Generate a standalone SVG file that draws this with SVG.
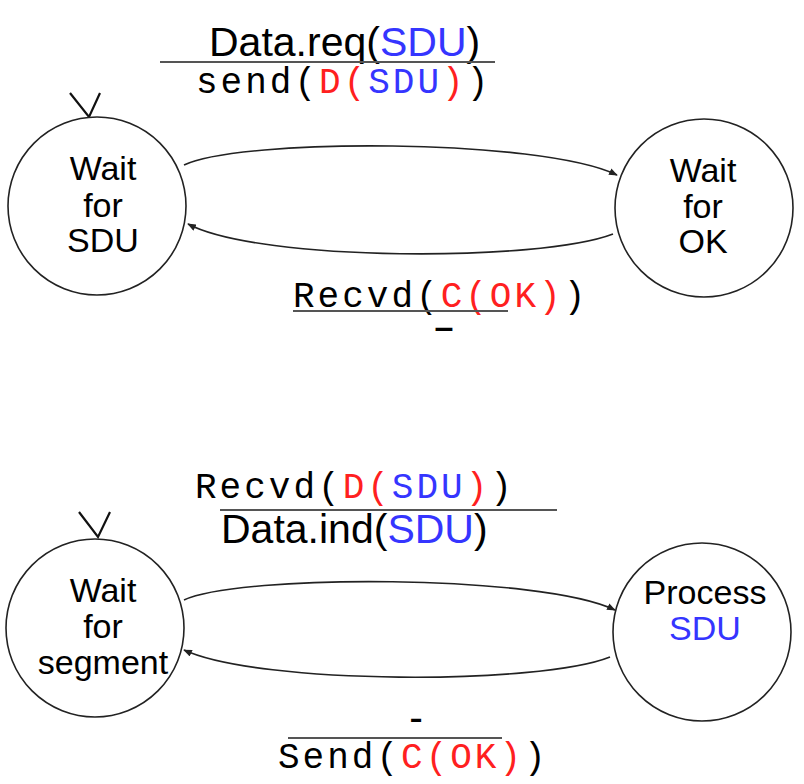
<svg xmlns="http://www.w3.org/2000/svg" width="804" height="784" viewBox="0 0 804 784">
<style>
.node{fill:#fff;stroke:#222;stroke-width:1.6}
.lbl{font-family:"Liberation Sans",Arial,sans-serif;font-size:34px;fill:#000;text-anchor:middle}
.sans{font-family:"Liberation Sans",Arial,sans-serif;font-size:41px;fill:#000}
.mono{font-family:"Liberation Mono","Courier New",monospace;font-size:36px;letter-spacing:3px;fill:#000}
.r{fill:#ff2020}
.b{fill:#3535ff}
.bar{stroke:#555;stroke-width:2;fill:none}
.edge{fill:none;stroke:#222;stroke-width:1.6}
.init{fill:none;stroke:#111;stroke-width:2.2}
</style>
<defs>
<marker id="ah" viewBox="0 0 10 8" refX="9" refY="4" markerWidth="9" markerHeight="7" markerUnits="userSpaceOnUse" orient="auto">
<path d="M0,0 L10,4 L0,8 Z" fill="#222"/>
</marker>
</defs>
<rect width="804" height="784" fill="#fff"/>

<g id="connectors">
<path class="edge" d="M184,165 C240,138 540,138 617,175" marker-end="url(#ah)"/>
<path class="edge" d="M613,234 C540,262 260,262 188,224" marker-end="url(#ah)"/>
<path class="edge" d="M184,600 C240,574 540,574 615,610" marker-end="url(#ah)"/>
<path class="edge" d="M610,657 C540,685 260,685 184,650" marker-end="url(#ah)"/>
<polyline class="init" points="70,93 89,117 100,93"/>
<polyline class="init" points="79,512 98,537 110,512"/>
</g>

<g id="node-wait-sdu">
<circle class="node" cx="97" cy="206" r="89"/>
<text class="lbl" x="103" y="180">Wait</text>
<text class="lbl" x="103" y="217">for</text>
<text class="lbl" x="103" y="252">SDU</text>
</g>
<g id="node-wait-ok">
<circle class="node" cx="704" cy="208" r="89"/>
<text class="lbl" x="703" y="182">Wait</text>
<text class="lbl" x="703" y="218">for</text>
<text class="lbl" x="703" y="253">OK</text>
</g>
<g id="node-wait-segment">
<circle class="node" cx="95" cy="628" r="89"/>
<text class="lbl" x="103" y="602">Wait</text>
<text class="lbl" x="103" y="638">for</text>
<text class="lbl" x="103" y="674">segment</text>
</g>
<g id="node-process-sdu">
<circle class="node" cx="702" cy="632" r="89"/>
<text class="lbl" x="705" y="604">Process</text>
<text class="lbl" x="705" y="640"><tspan class="b">SDU</tspan></text>
</g>

<g id="labels">
<text class="sans" x="209" y="56">Data.req(<tspan class="b">SDU</tspan>)</text>
<line class="bar" x1="160" y1="62" x2="495" y2="62"/>
<text class="mono" x="196" y="93">send(<tspan class="r">D(</tspan><tspan class="b">SDU</tspan><tspan class="r">)</tspan>)</text>

<text class="mono" x="293" y="307">Recvd(<tspan class="r">C(OK)</tspan>)</text>
<line class="bar" x1="293" y1="311" x2="508" y2="311"/>
<text class="sans" style="font-size:34px;font-weight:bold" x="444" y="338" text-anchor="middle">–</text>

<text class="mono" x="195" y="498">Recvd(<tspan class="r">D(</tspan><tspan class="b">SDU</tspan><tspan class="r">)</tspan>)</text>
<line class="bar" x1="220" y1="510" x2="557" y2="510"/>
<text class="sans" x="221" y="543">Data.ind(<tspan class="b">SDU</tspan>)</text>

<text class="sans" x="416" y="731" text-anchor="middle">-</text>
<line class="bar" x1="288" y1="738" x2="502" y2="738"/>
<text class="mono" x="278" y="768">Send(<tspan class="r">C(OK)</tspan>)</text>
</g>
</svg>
